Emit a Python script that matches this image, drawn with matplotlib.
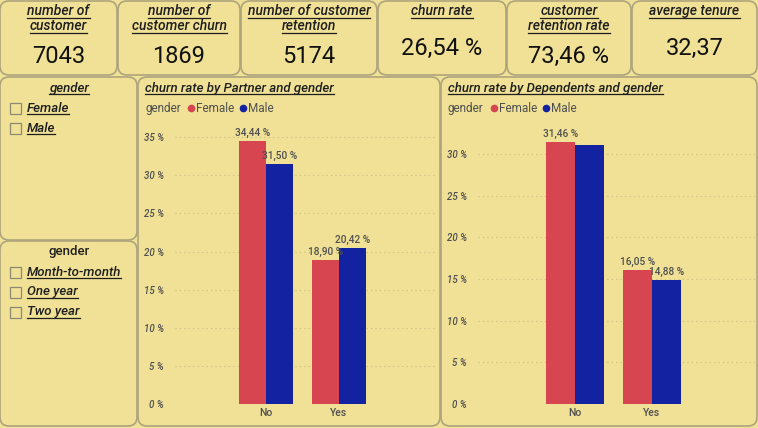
import numpy as np
import matplotlib.pyplot as plt
from matplotlib.patches import FancyBboxPatch, Rectangle

# KPI cards
kpi_titles = ["number of\ncustomer", "number of\ncustomer churn", "number of customer\nretention",
              "churn rate", "customer\nretention rate", "average tenure"]
kpi_values = ["7043", "1869", "5174", "26,54 %", "73,46 %", "32,37"]

# slicers
slicer1_items = ["Female", "Male"]
slicer2_items = ["Month-to-month", "One year", "Two year"]

# charts
categories = ["No", "Yes"]
partner_female = [34.44, 18.90]
partner_male = [31.50, 20.42]
dep_female = [31.46, 16.05]
dep_male = [31.13, 14.88]
dep_male_labels = [None, "14,88 %"]

BG = "#F0E197"
EDGE = "#ADA47C"
RED = "#D64550"
BLUE = "#1222A0"
GRAY = "#505050"
DARK = "#1E1E1E"
FONT = "Roboto"

W, H = 758, 428
fig = plt.figure(figsize=(W / 100, H / 100), dpi=100)
fig.patch.set_facecolor(BG)
bg = fig.add_axes([0, 0, 1, 1])
bg.set_xlim(0, W)
bg.set_ylim(H, 0)
bg.axis("off")

underlines = []


def box(x0, y0, x1, y1):
    p = FancyBboxPatch((x0 + 4, y0 + 4), x1 - x0 - 8, y1 - y0 - 8,
                       boxstyle="round,pad=4,rounding_size=9",
                       fc=BG, ec=EDGE, lw=1.2)
    bg.add_patch(p)


def txt(x, y, s, size, ha="left", style="normal", color=DARK, ul=False, weight="medium"):
    t = bg.text(x, y, s, fontsize=size, ha=ha, va="center", style=style,
                color=color, family=FONT, weight=weight, linespacing=1.0)
    if ul:
        underlines.append(t)
    return t


# KPI cards
card_x = [(0, 117), (118, 240), (241, 377), (378, 506), (507, 631), (632, 757)]
for (x0, x1), title, val in zip(card_x, kpi_titles, kpi_values):
    box(x0, 1, x1, 75)
    cx = (x0 + x1) / 2
    nlines = title.count("\n") + 1
    for i, line in enumerate(title.split("\n")):
        txt(cx, 11 + i * 15, line, 10, ha="center", style="italic", ul=True)
    txt(cx, 56 if nlines == 2 else 48, val, 17, ha="center", weight="normal", color="#111111")

# slicers
box(0, 77, 137, 240)
txt(69, 88, "gender", 9.5, ha="center", style="italic", ul=True)
for i, item in enumerate(slicer1_items):
    y = 108 + i * 20
    bg.add_patch(Rectangle((10, y - 5), 11, 11, fc="none", ec="#8C8A70", lw=0.9))
    txt(27, y, item, 9.5, style="italic", ul=True)

box(0, 241, 137, 426)
txt(69, 252, "gender", 9.5, ha="center")
for i, item in enumerate(slicer2_items):
    y = 272 + i * 20
    bg.add_patch(Rectangle((10, y - 5), 11, 11, fc="none", ec="#8C8A70", lw=0.9))
    txt(27, y, item, 9.5, style="italic", ul=True)

# chart panels
box(138, 77, 440, 426)
box(441, 77, 757, 426)


def legend(x, y):
    txt(x, y, "gender", 8.5, color=GRAY, weight="normal")
    bg.plot([x + 46], [y], "o", ms=4.5, color=RED)
    txt(x + 51, y, "Female", 8.5, color=GRAY, weight="normal")
    bg.plot([x + 98], [y], "o", ms=4.5, color=BLUE)
    txt(x + 103, y, "Male", 8.5, color=GRAY, weight="normal")


def fmt(v):
    return ("%.2f %%" % v).replace(".", ",")


def chart(rect, female, male, ticks, ylim, xlim, width, male_labels=None):
    ax = fig.add_axes(rect)
    ax.set_facecolor("none")
    x = np.arange(len(categories))
    ax.bar(x - width / 2, female, width, color=RED, zorder=3)
    ax.bar(x + width / 2, male, width, color=BLUE, zorder=3)
    if male_labels is None:
        male_labels = [fmt(v) for v in male]
    for i in range(len(categories)):
        ax.text(x[i] - width / 2, female[i] + 0.4, fmt(female[i]),
                ha="center", va="bottom", fontsize=7.3, color=GRAY, family=FONT,
                weight="medium", zorder=4)
        if male_labels[i]:
            ax.text(x[i] + width / 2, male[i] + 0.4, male_labels[i],
                    ha="center", va="bottom", fontsize=7.3, color=GRAY, family=FONT,
                    weight="medium", zorder=4)
    ax.set_xlim(*xlim)
    ax.set_ylim(*ylim)
    ax.set_yticks(ticks)
    ax.set_yticklabels(["%d %%" % t for t in ticks], style="italic", fontsize=7,
                       color=GRAY, family=FONT, weight="medium")
    ax.set_xticks(x)
    ax.set_xticklabels(categories, fontsize=7.5, color=GRAY, family=FONT, weight="medium")
    ax.tick_params(length=0, pad=3)
    ax.tick_params(axis="y", pad=8)
    ax.grid(axis="y", ls=(0, (1, 3)), color="#C9BC82", lw=0.8, zorder=0)
    for s in ax.spines.values():
        s.set_visible(False)
    return ax


# chart 1: Partner
txt(145, 88, "churn rate by Partner and gender", 9.5, style="italic", ul=True)
legend(145, 108)
ax_l, ax_r = 175, 435
ax1 = chart([ax_l / W, (H - 404) / H, (ax_r - ax_l) / W, (404 - 125) / H],
            partner_female, partner_male, range(0, 36, 5), (0, 36.6), (-1.25, 2.32), 0.37)

# chart 2: Dependents
txt(448, 88, "churn rate by Dependents and gender", 9.5, style="italic", ul=True)
legend(448, 108)
ax_l, ax_r = 478, 755
ax2 = chart([ax_l / W, (H - 404) / H, (ax_r - ax_l) / W, (404 - 130) / H],
            dep_female, dep_male, range(0, 31, 5), (0, 32.9), (-1.26, 2.34), 0.38,
            male_labels=dep_male_labels)

fig.canvas.draw()
r = fig.canvas.get_renderer()
inv = bg.transData.inverted()
for t in underlines:
    bb = t.get_window_extent(r)
    (xa, ya), (xb, yb) = inv.transform([(bb.x0, bb.y0), (bb.x1, bb.y0)])
    bg.plot([xa, xb], [ya - 0.5, yb - 0.5], color=DARK, lw=0.9)

fig.savefig("out.png", dpi=100, facecolor=BG)
